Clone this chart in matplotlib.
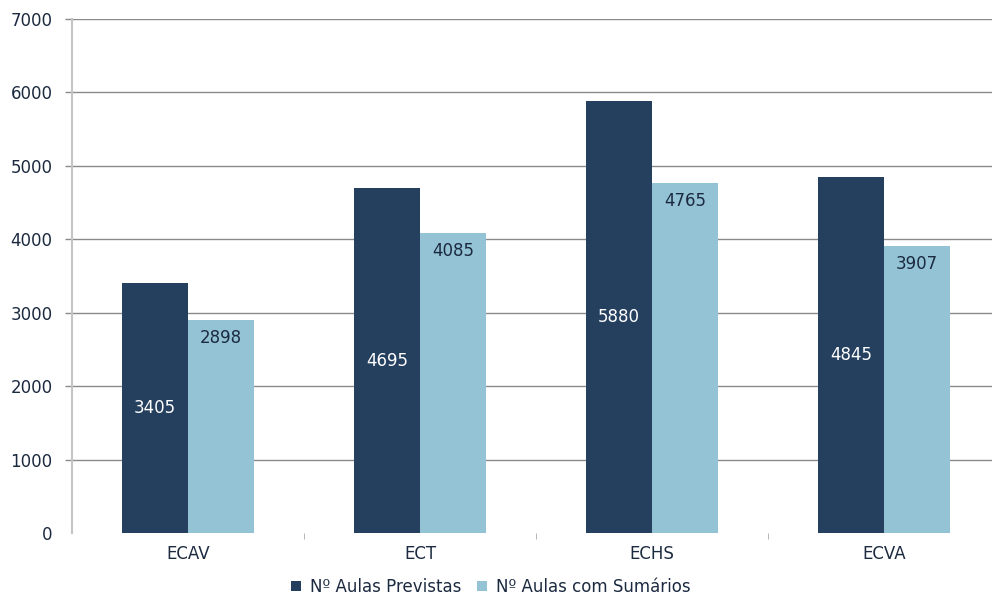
import matplotlib
matplotlib.use("Agg")
import matplotlib.pyplot as plt
import numpy as np

categories = ["ECAV", "ECT", "ECHS", "ECVA"]
previstas = [3405, 4695, 5880, 4845]
sumarios = [2898, 4085, 4765, 3907]
series_names = ["Nº Aulas Previstas", "Nº Aulas com Sumários"]
yticks = [0, 1000, 2000, 3000, 4000, 5000, 6000, 7000]

dark = "#253F5F"
light = "#93C3D5"
txt = "#1C2A40"
fs = 12

plt.rcParams['font.family'] = ['DejaVu Sans']
fig = plt.figure(figsize=(9.92, 5.96), dpi=100)
ax = fig.add_axes([72/992, 1-533/596, 928/992, 514/596])

x = np.arange(len(categories))
w = 0.284
b1 = ax.bar(x - w/2, previstas, w, color=dark, label=series_names[0], zorder=3)
b2 = ax.bar(x + w/2, sumarios, w, color=light, label=series_names[1], zorder=3)

for r, v in zip(b1, previstas):
    ax.text(r.get_x() + r.get_width()/2, v/2, str(v), ha="center", va="center",
            color="white", fontsize=fs, zorder=4)
for r, v in zip(b2, sumarios):
    ax.annotate(str(v), (r.get_x() + r.get_width()/2, v), xytext=(0, -18),
                textcoords="offset pixels",
                ha="center", va="center", color=txt, fontsize=fs, zorder=4)

ax.set_xlim(-0.5, len(categories) - 0.5)
ax.set_ylim(0, 7000)
ax.set_yticks(yticks)
ax.set_yticklabels([str(t) for t in yticks], color=txt, fontsize=fs)
ax.yaxis.grid(True, color="#8A8A8A", linewidth=1.0, zorder=0)
ax.tick_params(axis="y", length=5, width=1.0, color="#8A8A8A", pad=9)
ax.yaxis.get_gridlines()[0].set_visible(False)
ax.yaxis.get_major_ticks()[0].tick1line.set_visible(False)

ax.set_xticks(x)
ax.set_xticklabels(categories, color=txt, fontsize=fs)
ax.tick_params(axis="x", which="major", length=0, pad=8.5)
ax.set_xticks(np.arange(0.5, len(categories) - 0.5, 1), minor=True)
ax.tick_params(axis="x", which="minor", length=4.5, color="#AAAAAA")

for s in ["top", "right", "bottom"]:
    ax.spines[s].set_visible(False)
ax.spines["left"].set_color("#C4C4C4")
ax.spines["left"].set_linewidth(1.5)

fig.legend(handles=[b1, b2], loc="center", bbox_to_anchor=(491/992, 1-587/596),
           ncol=2, frameon=False, fontsize=fs, handlelength=0.6, handleheight=0.6,
           handletextpad=0.55, columnspacing=0.9, labelcolor=txt)

fig.savefig("out.png", dpi=100)
